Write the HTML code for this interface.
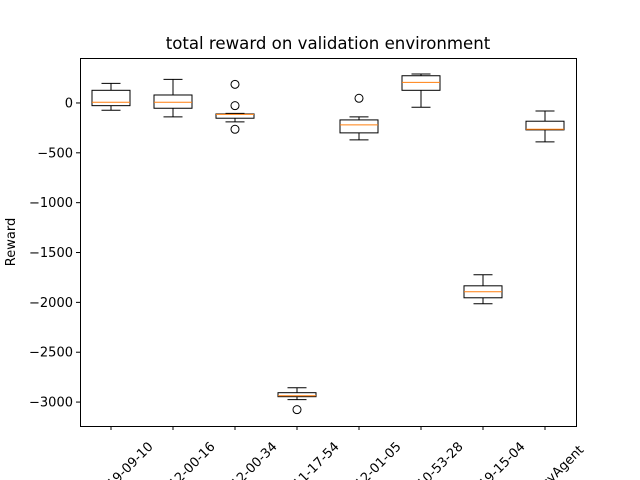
<!DOCTYPE html>
<html><head><meta charset="utf-8"><style>
html,body{margin:0;background:#fff;overflow:hidden;width:640px;height:480px}
svg{display:block}
svg text{font-family:"DejaVu Sans","Liberation Sans",sans-serif;fill:#000}
</style></head><body>
<svg id="chart" width="640" height="480" xmlns="http://www.w3.org/2000/svg" style="overflow:hidden">
<rect width="640" height="480" fill="#fff"/>
<text x="328" y="49" font-size="16.6" text-anchor="middle">total reward on validation environment</text>
<text transform="translate(15,242) rotate(-90)" font-size="13" text-anchor="middle">Reward</text>
<g id="marks"></g>
<rect x="80.5" y="58.5" width="496" height="368" fill="none" stroke="#000" stroke-width="1"/>
</svg>
<script>
const categories=["2020-01-01-19-09-10","2020-01-02-12-00-16","2020-01-03-12-00-34","2020-01-04-11-17-54","2020-01-05-12-01-05","2020-01-06-10-53-28","2020-01-07-19-15-04","RandomPolicyAgent"];
const whiskerLow=[-73,-140,-190,-2976,-370,-43,-2014,-390];
const q1=[-27,-53,-153,-2946,-300,127,-1954,-270];
const medians=[7,7,-115,-2936,-220,207,-1894,-264];
const q3=[127,80,-110,-2906,-170,273,-1834,-183];
const whiskerHigh=[197,237,-105,-2856,-140,290,-1723,-80];
const outliers=[[],[],[187,-27,-264],[-3076],[47],[],[],[]];
const yTicks=[0,-500,-1000,-1500,-2000,-2500,-3000];

const NS="http://www.w3.org/2000/svg";
const g=document.getElementById('marks');
const svg=document.getElementById('chart');
const X0=80,X1=576,Y0=58,Y1=426,yMin=-3240,yMax=451;
function xs(i){return X0+(i+0.5)/categories.length*(X1-X0);}
function ys(v){return Y1-(v-yMin)/(yMax-yMin)*(Y1-Y0);}
function mk(t,a,p){const e=document.createElementNS(NS,t);for(const k in a)e.setAttribute(k,a[k]);(p||g).appendChild(e);return e;}
const bw=19,cw=9.5;
categories.forEach((c,i)=>{
  const x=xs(i);
  const grp=mk('g',{});
  
  
  const s={stroke:'#000','stroke-width':1,fill:'none'};
  mk('line',Object.assign({x1:x,x2:x,y1:ys(q3[i]),y2:ys(whiskerHigh[i])},s),grp);
  mk('line',Object.assign({x1:x,x2:x,y1:ys(q1[i]),y2:ys(whiskerLow[i])},s),grp);
  mk('line',Object.assign({x1:x-cw,x2:x+cw,y1:ys(whiskerHigh[i]),y2:ys(whiskerHigh[i])},s),grp);
  mk('line',Object.assign({x1:x-cw,x2:x+cw,y1:ys(whiskerLow[i]),y2:ys(whiskerLow[i])},s),grp);
  mk('rect',Object.assign({x:x-bw,y:ys(q3[i]),width:2*bw,height:Math.max(0.5,ys(q1[i])-ys(q3[i]))},s),grp);
  mk('line',{x1:x-bw,x2:x+bw,y1:ys(medians[i]),y2:ys(medians[i]),stroke:'#ff7f0e','stroke-width':1},grp);
  outliers[i].forEach(v=>{const o=mk('circle',{cx:x,cy:ys(v),r:4,fill:'none',stroke:'#000'},grp);
    
    });
  mk('line',{x1:x,x2:x,y1:Y1,y2:Y1+4,stroke:'#000'},grp);
  const t=mk('text',{'font-size':13,'text-anchor':'middle','dominant-baseline':'central',transform:`translate(${x-9} ${Y1+68}) rotate(-45)`},svg);
  t.textContent=c;
  
  
});
yTicks.forEach(v=>{
  const y=ys(v);
  mk('line',{x1:X0-4,x2:X0,y1:y,y2:y,stroke:'#000'});
  const t=mk('text',{x:X0-7,y:y+4.5,'font-size':13,'text-anchor':'end'});
  t.textContent=v===0?'0':'\u2212'+Math.abs(v);
  
  
});
</script>
</body></html>
